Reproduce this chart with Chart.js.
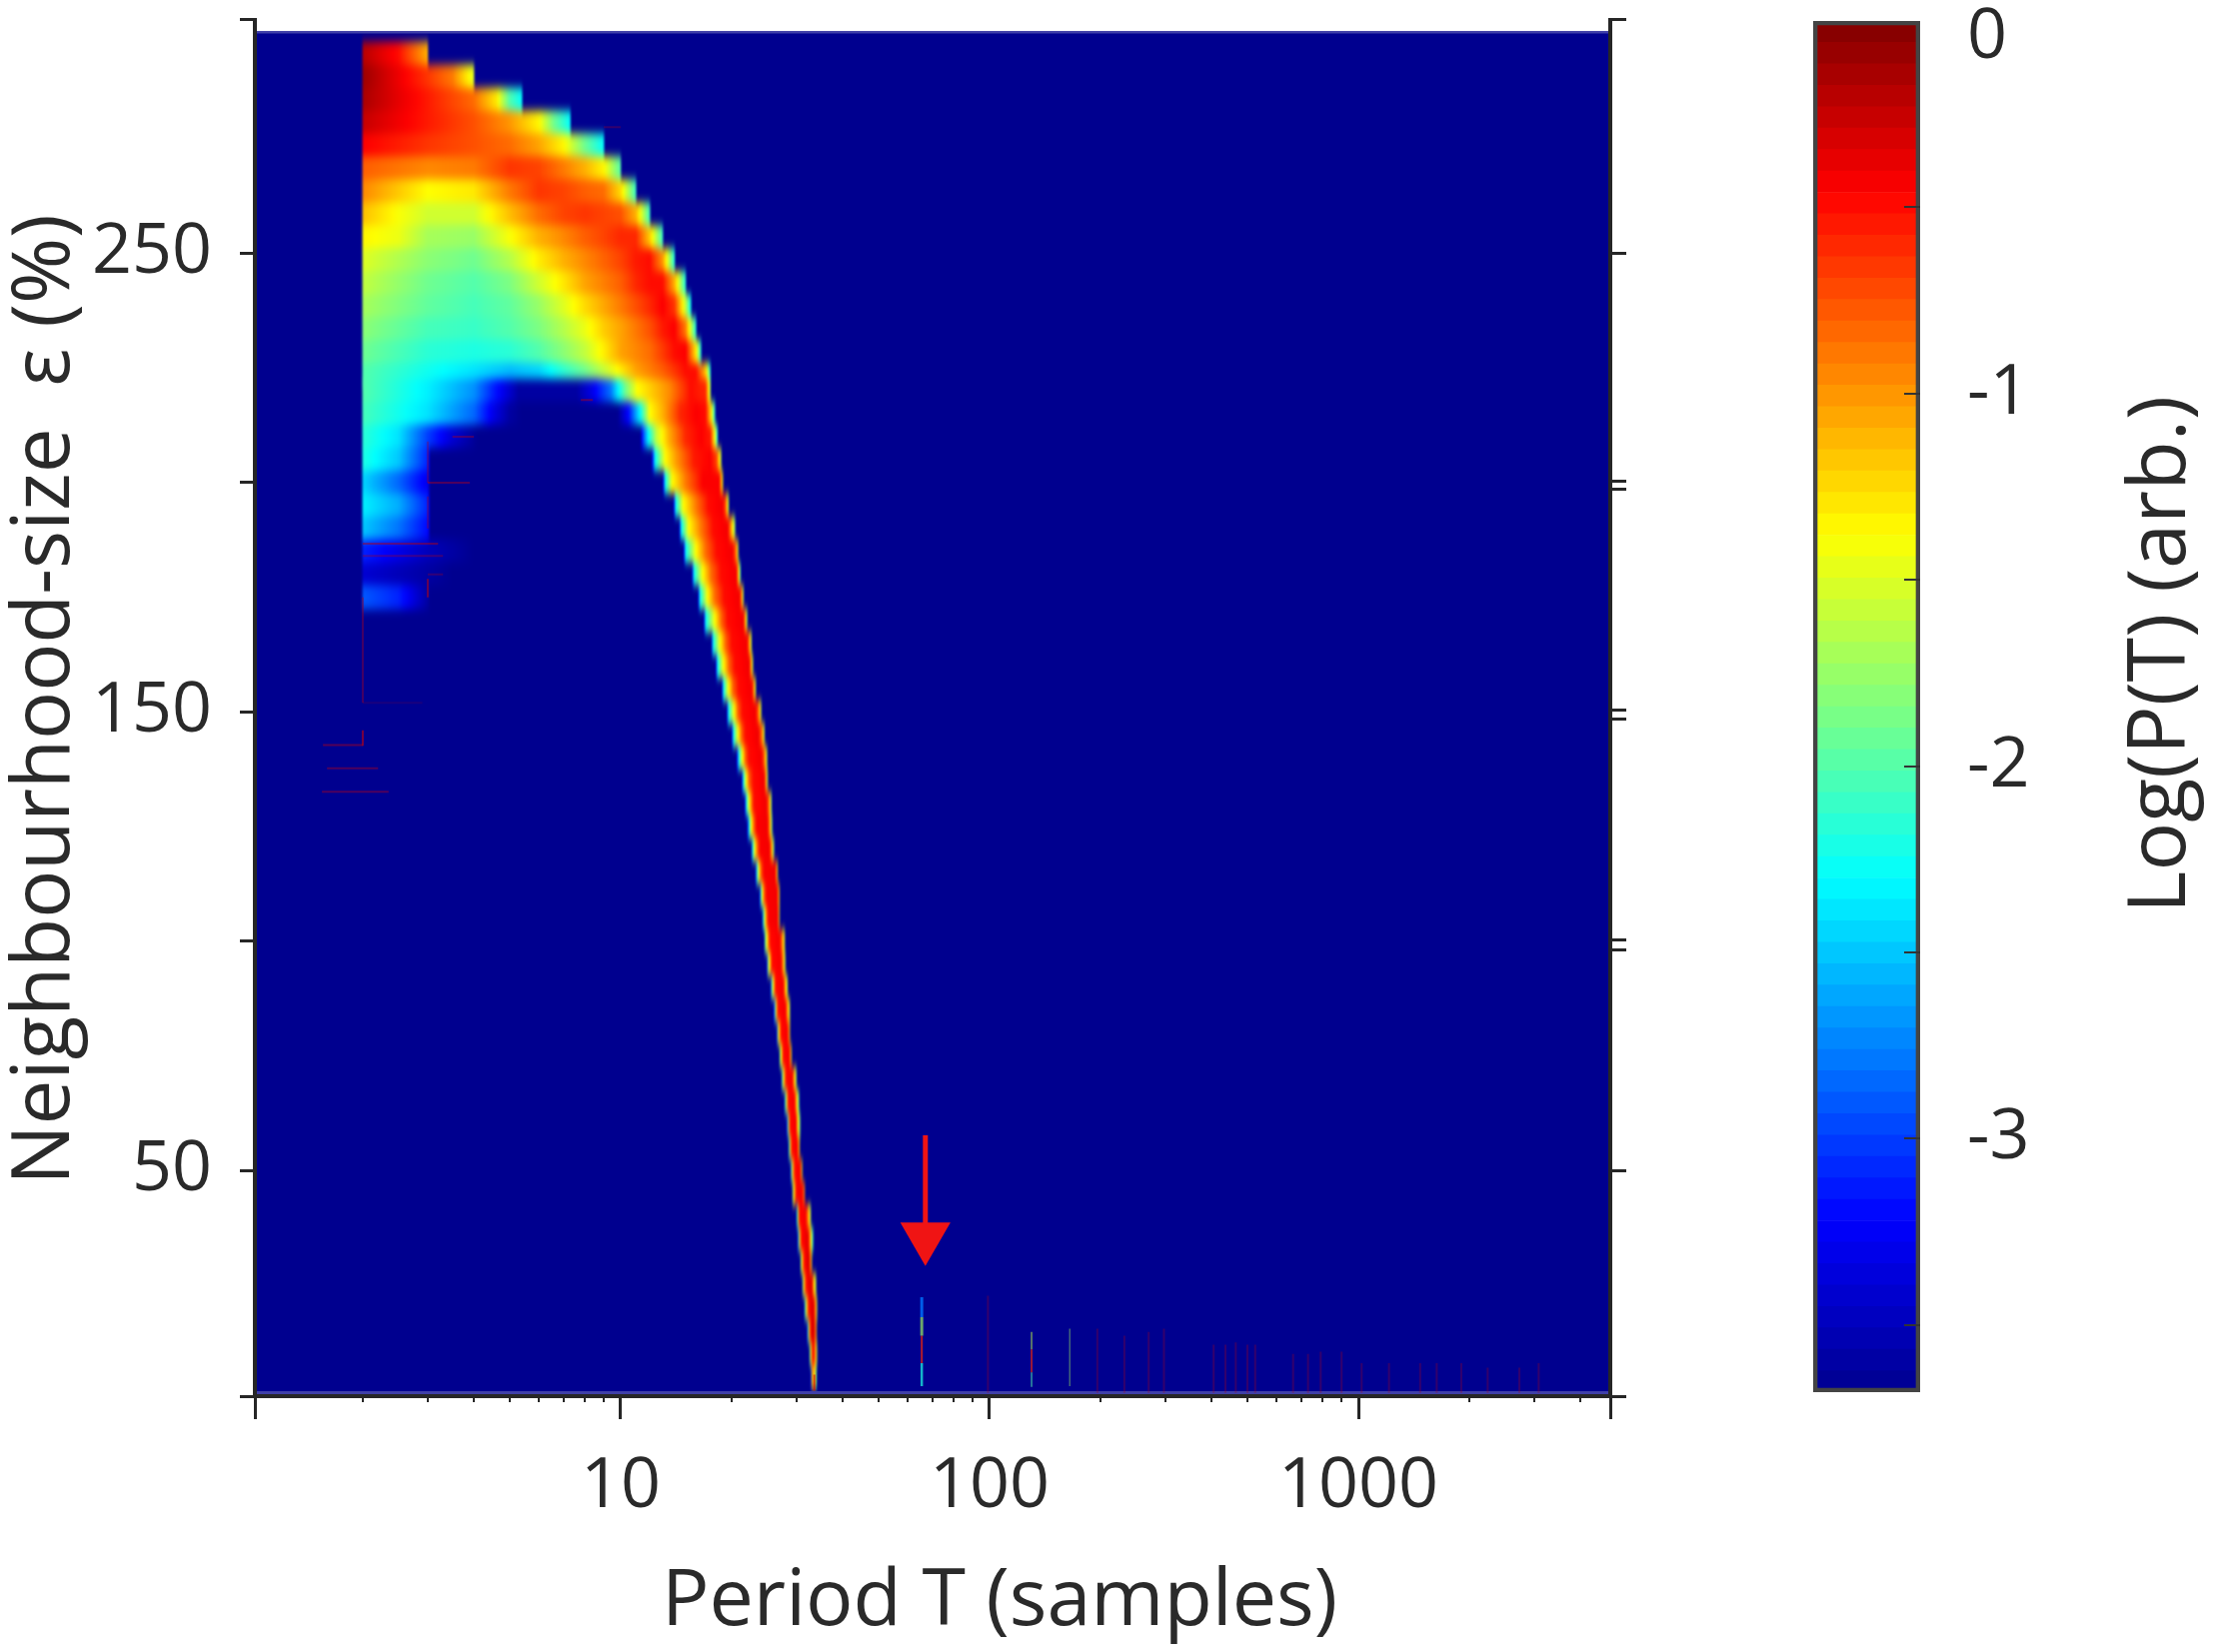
<!DOCTYPE html>
<html>
<head>
<meta charset="utf-8">
<title>Period spectrum</title>
<script src="https://cdn.jsdelivr.net/npm/chart.js@4/dist/chart.umd.min.js"></script>
<style>
body { margin: 0; background: #fff; }
#grafico { position: absolute; left: 0; top: 0; }
#barra { position: absolute; left: 1780px; top: 0; }
</style>
</head>
<body>
<svg width="0" height="0" style="position:absolute">
  <filter id="softRows" x="-5%" y="-5%" width="110%" height="110%" color-interpolation-filters="sRGB">
    <feGaussianBlur stdDeviation="1.2 5"/>
  </filter>
</svg>
<canvas id="grafico" width="2217" height="1653"></canvas>
<canvas id="barra" width="437" height="1653"></canvas>
<script>
// ticks
const xMajorTicks = [1.02, 10, 100, 1000, 4815];
const xMinorTicks = [2, 3, 4, 5, 6, 7, 8, 9, 20, 30, 40, 50, 60, 70, 80, 90, 200, 300, 400, 500, 600, 700, 800, 900, 2000, 3000, 4000];
const yTicks = [0.8, 50, 100, 150, 200, 250, 301];
const yRightTicks = [0.8, 50, 98.2, 100.2, 148.5, 150.4, 198.6, 200.3, 250, 301];
const xLabels = [10, 100, 1000];
const yLabels = [50, 150, 250];
const barTicks = [-0.5, -1, -1.5, -2, -2.5, -3, -3.5];
const barLabels = [-1, -2, -3];

// jet colour stops: log P, r, g, b
const jetValues = [-3.68, -3.22, -2.3, -1.38, -0.46, 0];
const jetColors = [[0, 0, 143], [0, 0, 255], [0, 255, 255], [255, 255, 0], [255, 0, 0], [128, 0, 0]];

// neighbourhood size of each row of the map
const rowEpsilon = [293.5, 288.5, 283.5, 278.5, 273.5, 268.5, 263.5, 258.5, 253.5, 248.5, 243.5, 238.5, 233.5, 228.5, 223.5, 220, 215, 210, 205, 200,
    195, 190, 185, 180, 175, 170, 165, 160, 155, 150, 145, 140, 135, 130, 125, 120, 115, 110, 105, 100,
    95, 90, 85, 80, 75, 70, 65, 60, 55, 50, 45, 40, 35, 30, 25, 20, 15, 10, 5];

// period T, log P pairs read along each row
const rowSamples = [
    [2,-.2, 2.5,-.5, 3,-1.1],
    [2,-.1, 2.5,-.4, 3,-.65, 3.5,-.9, 4,-1.5],
    [2,-.15, 3,-.55, 4,-.85, 4.6,-1.3, 5,-2, 5.4,-2.3],
    [2,-.25, 3,-.55, 4,-.75, 5,-1, 6,-1.35, 6.6,-1.9, 7.3,-2.3],
    [2,-.45, 3,-.65, 4,-.75, 5,-.85, 6,-1.05, 7,-1.35, 8,-1.9, 9,-2.3],
    [2,-.8, 3,-.95, 4,-.9, 5,-.65, 6,-.7, 7,-.9, 8,-1.1, 9,-1.35, 10,-2],
    [2,-.95, 3,-1.38, 4,-1.3, 5,-.9, 6,-.65, 7,-.7, 8,-.8, 9,-.85, 10,-1.25, 11,-2.1],
    [2,-1.15, 2.5,-1.4, 3,-1.55, 4,-1.55, 5,-1.15, 6,-.85, 7,-.7, 8,-.65, 9,-.7, 10,-.75, 11,-1.1, 12,-2.1],
    [2,-1.35, 2.5,-1.45, 3,-1.7, 4,-1.75, 5,-1.4, 6,-1.1, 7,-.95, 8,-.8, 9,-.7, 10,-.6, 11,-.6, 12,-1.2, 13,-2.1],
    [2,-1.5, 3,-1.8, 4,-1.9, 5,-1.65, 6,-1.32, 7,-1.1, 8,-.95, 10,-.7, 11,-.55, 12,-.5, 13,-1, 14,-2.2],
    [2,-1.6, 3,-1.9, 4,-2, 5,-1.85, 6,-1.55, 7,-1.3, 8,-1.05, 10,-.8, 11,-.6, 12,-.5, 13,-.5, 14,-1.1, 15,-2.2],
    [2,-1.7, 3,-1.95, 4,-2.05, 5,-1.95, 6,-1.75, 7,-1.5, 8,-1.25, 10,-.9, 12,-.6, 13,-.45, 14,-.65, 15,-1.6, 15.5,-2.3],
    [2,-1.8, 3,-2.05, 4,-2.1, 5,-2, 6,-1.85, 7,-1.65, 8,-1.45, 9,-1.2, 10,-1.05, 12,-.75, 13,-.55, 14,-.45, 15,-.9, 16,-2.2],
    [2,-1.9, 3,-2.15, 4,-2.2, 5,-2.15, 6,-2, 7,-1.8, 8,-1.6, 8.8,-1.38, 10,-1.05, 12,-.85, 14,-.5, 15,-.45, 16,-1.3, 16.5,-2.2],
    [2,-2, 3,-2.25, 4,-2.4, 5,-2.55, 6,-2.45, 7,-2.15, 8,-1.9, 9,-1.6, 9.8,-1.38, 11,-1.05, 13,-.8, 15,-.5, 16,-.5, 17,-1.2, 17.5,-2.2],
    [2,-2, 3,-2.35, 4,-2.7, 4.5,-3.1, 5.3,-3.6, 7.6,-3.6, 8.4,-3.3, 9.4,-2.8, 10.3,-1.9, 11.1,-1.38, 13.6,-.95, 15.5,-.5, 17,-.6, 17.5,-1.7],
    [2,-2.05, 3,-2.4, 4,-2.85, 4.5,-3.3, 5,-3.6, 5.4,-3.68, 9.8,-3.68, 10.5,-3.2, 11.3,-2.3, 12,-1.38, 13,-1.1, 14.5,-.6, 16,-.45, 17,-.5, 17.6,-1.3, 18,-2.2],
    [2,-2.15, 2.5,-2.4, 3,-3, 3.5,-3.4, 4.1,-3.68, 11.3,-3.68, 11.5,-3, 11.9,-2.3, 12.5,-1.6, 13.5,-1.1, 15,-.6, 16.5,-.45, 17.5,-.55, 18,-1.4, 18.3,-2.2],
    [2,-2.2, 2.5,-2.5, 3,-3.1, 3.05,-3.68, 12.1,-3.68, 12.4,-2.3, 13.2,-1.38, 14.2,-1, 15.8,-.55, 17.5,-.45, 18.2,-.7, 18.7,-1.6],
    [2,-2.45, 2.5,-2.85, 3,-3.3, 3.05,-3.68, 13,-3.68, 13.2,-2.3, 13.8,-1.38, 15,-.9, 16.7,-.45, 18.5,-.45, 18.9,-1.4],
    [2,-2.35, 2.5,-2.6, 3,-3.1, 3.05,-3.68, 13.9,-3.68, 14.1,-2.3, 14.8,-1.38, 16,-.9, 17.3,-.5, 18.9,-.42, 19.3,-.8, 19.6,-1.7],
    [2,-2.5, 2.5,-2.8, 3,-3.2, 3.05,-3.68, 14.4,-3.68, 14.6,-2.3, 15.3,-1.38, 16.5,-.9, 17.8,-.5, 19.5,-.42, 20,-1.1, 20.4,-1.8],
    [2,-3.1, 3,-3.5, 4,-3.68, 14.8,-3.68, 15,-2.3, 16,-1.38, 17,-.85, 18.2,-.5, 20.1,-.42, 20.6,-.9, 20.8,-1.6],
    [2,-3.4, 3,-3.6, 3.5,-3.68, 15.6,-3.68, 15.8,-2.3, 16.7,-1.38, 17.6,-.85, 18.7,-.5, 20.6,-.42, 20.9,-1.2, 21.1,-2.1],
    [2,-2.9, 2.5,-3.1, 3,-3.6, 3.05,-3.68, 16.2,-3.68, 16.4,-2.3, 17.2,-1.38, 18,-.85, 19.1,-.5, 21,-.42, 21.3,-.9, 21.5,-1.7],
    [16.8,-3.68, 17,-2.3, 18,-1.38, 18.8,-.8, 19.5,-.5, 21.5,-.42, 21.8,-1, 22,-1.8],
    [17.6,-3.68, 17.8,-2.3, 18.6,-1.38, 19.3,-.8, 20,-.5, 22,-.42, 22.3,-.9, 22.6,-1.6],
    [18.1,-3.68, 18.3,-2.3, 19,-1.38, 19.7,-.8, 20.4,-.5, 22.3,-.42, 22.6,-1, 22.8,-1.7],
    [18.8,-3.68, 19,-2.3, 19.6,-1.38, 20.2,-.8, 20.9,-.5, 22.7,-.42, 23,-1, 23.2,-1.6],
    [19.4,-3.68, 19.6,-2.3, 20.3,-1.38, 20.8,-.8, 21.4,-.5, 23.2,-.42, 23.7,-.9, 24,-1.6],
    [20,-3.68, 20.2,-2.3, 20.8,-1.38, 21.3,-.8, 21.8,-.5, 23.6,-.42, 24.2,-.9, 24.5,-1.6],
    [20.6,-3.68, 20.9,-2.3, 21.4,-1.38, 21.8,-.8, 22.3,-.5, 24.1,-.42, 24.6,-.9, 24.9,-1.6],
    [21.3,-3.68, 21.5,-2.3, 21.9,-1.38, 22.3,-.8, 22.9,-.5, 24.5,-.42, 24.8,-1, 25,-1.7],
    [21.7,-3.68, 21.9,-2.3, 22.3,-1.38, 22.7,-.8, 23,-.5, 24.8,-.42, 25.3,-.9, 25.6,-1.8],
    [22,-3.68, 22.3,-2.3, 22.6,-1.38, 23,-.8, 23.4,-.45, 25,-.42, 25.4,-1, 25.7,-1.9],
    [22.6,-3.68, 22.8,-2.3, 23.1,-1.38, 23.5,-.8, 23.9,-.45, 25.3,-.42, 25.7,-1, 26,-1.9],
    [23.2,-3.68, 23.4,-2.3, 23.7,-1.38, 24,-.8, 24.5,-.45, 26.3,-.42, 26.6,-1.4],
    [23.8,-3.68, 24,-2.3, 24.2,-1.38, 24.5,-.8, 24.9,-.45, 26.6,-.42, 26.9,-1.3],
    [24.2,-3.68, 24.4,-2.3, 24.6,-1.38, 24.9,-.8, 25.2,-.45, 26.7,-.42, 26.9,-1.5],
    [24.5,-3.68, 24.7,-1.8, 25,-1.2, 25.4,-.5, 27,-.42, 27.5,-1, 27.8,-1.5],
    [24.9,-3.68, 25.1,-1.8, 25.4,-1.2, 25.7,-.5, 27.2,-.42, 27.6,-1, 27.9,-1.6],
    [25.5,-3.68, 25.7,-2, 26,-1.2, 26.3,-.5, 27.6,-.42, 28,-1.1, 28.3,-1.6],
    [26,-3.68, 26.2,-2.3, 26.4,-1.2, 26.7,-.5, 28,-.42, 28.4,-1.1, 28.7,-1.6],
    [26.5,-3.68, 26.7,-1.6, 27,-1, 27.2,-.5, 28.4,-.42, 28.7,-1.4],
    [27,-3.68, 27.1,-1.6, 27.4,-1, 27.6,-.5, 28.7,-.42, 29,-1.4],
    [27.3,-3.68, 27.5,-1.7, 27.8,-1, 28.1,-.5, 29.2,-.42, 29.6,-1.1, 29.9,-1.7],
    [27.8,-3.68, 28,-2, 28.3,-1, 28.5,-.5, 29.6,-.42, 30,-1.1, 30.4,-2],
    [28.2,-3.68, 28.4,-2.2, 28.6,-1, 28.8,-.5, 29.9,-.42, 30.2,-1.2, 30.6,-1.9],
    [28.5,-3.68, 28.7,-2, 28.9,-1, 29.1,-.5, 30.2,-.42, 30.5,-1.4],
    [28.9,-3.68, 29.1,-1.8, 29.4,-.9, 29.7,-.5, 30.7,-.42, 31,-1.4],
    [29.2,-3.68, 29.4,-1.4, 29.7,-.9, 30,-.45, 31.1,-.42, 31.5,-1],
    [29.9,-3.68, 30.1,-2.4, 30.3,-1.3, 30.5,-.5, 31.7,-.42, 32.3,-1, 32.7,-1.7],
    [30.2,-3.68, 30.4,-2.2, 30.6,-1.2, 30.9,-.5, 32.2,-.35, 32.6,-.9, 33.2,-2.2],
    [30.7,-3.68, 30.9,-1.6, 31.2,-.8, 31.6,-.45, 32.5,-.3, 32.9,-1.4],
    [31.1,-3.68, 31.3,-1.4, 31.6,-.8, 32,-.45, 33,-.3, 33.4,-1.2, 33.8,-1.6],
    [31.5,-3.68, 31.7,-2, 32,-1, 32.5,-.45, 33.4,-.3, 33.8,-1, 34,-1.6],
    [32,-3.68, 32.2,-2.3, 32.5,-.9, 32.9,-.35, 33.5,-.3, 33.9,-1.2],
    [32.5,-3.68, 32.7,-1.6, 33,-.7, 33.3,-.4, 33.7,-.9, 34,-1.6],
    [32.8,-3.68, 33,-1.4, 33.3,-.9, 33.6,-1.2, 33.9,-2]
];

// thin coloured traces: T, epsilon from, epsilon to, log P, width, opacity
const traces = [
    [65.5, 18, 22.4, -2.8, 3, 0.8], [65.5, 14, 18, -1.7, 3, 0.65], [65.5, 8, 14, -0.6, 2, 0.7], [65.5, 3, 8, -2.2, 2.5, 0.7],
    [130, 2.8, 6, -2, 1.5, 0.6], [130, 6, 11, -0.6, 1.5, 0.8], [130, 11, 14.8, -1.6, 1.5, 0.6],
    [165, 3, 15.5, -1.7, 1.5, 0.4], [33.5, 2, 5.5, -0.3, 2, 0.6]
];

// faint dark red lines: T from, epsilon from, T to, epsilon to, opacity
const streaks = [
    [2, 175, 2, 152, 0.4], [2, 146, 2, 142.6, 0.7], [1.56, 142.8, 2, 142.8, 0.5], [1.6, 137.7, 2.2, 137.7, 0.45],
    [1.55, 132.6, 2.35, 132.6, 0.45], [2, 152, 2.9, 152, 0.15], [3, 209, 3, 200, 0.3], [3, 197, 3, 190, 0.3],
    [3, 179, 3, 175, 0.6], [3, 200, 3.9, 200, 0.45], [2, 186.7, 3.2, 186.7, 0.5], [2, 184, 3.3, 184, 0.35],
    [3, 180, 3.3, 180, 0.3], [3.5, 210, 4, 210, 0.4], [9, 277.5, 10, 277.5, 0.3], [7.8, 218, 8.4, 218, 0.5]
];
const spikeT = [99, 196, 232, 270, 297, 405, 436, 465, 500, 525, 665, 730, 790, 900, 1020, 1210, 1470, 1630, 1900, 2240, 2730, 3080];
const spikeTop = [22.7, 15.5, 14, 14.8, 15.5, 12, 12, 12.5, 12, 12, 10, 10, 10.5, 10.5, 8, 8, 8, 8, 8, 7, 7, 8];

// red arrow
const arrowT = 67;
const arrowTop = 57.7;
const arrowShaftEnd = 38.5;
const arrowHead = 35.5;

const fieldTop = 298.5;

const fontFamily = '"Open Sans", sans-serif';
const textColor = '#2a2a2a';
const axisColor = '#262626';

const jet = (v) => {
    if (v <= jetValues[0]) return jetColors[0];
    for (let i = 1; i < jetValues.length; i++) {
        if (v <= jetValues[i]) {
            const t = (v - jetValues[i - 1]) / (jetValues[i] - jetValues[i - 1]);
            return jetColors[i].map((c, k) => Math.round(jetColors[i - 1][k] + (c - jetColors[i - 1][k]) * t));
        }
    }
    return jetColors[jetColors.length - 1];
};
const jetCss = (v) => 'rgb(' + jet(v).join(',') + ')';

// one bar for each pair of neighbouring samples of a row
const cells = [];
const cellFrom = [];
const cellTo = [];
rowEpsilon.forEach((eps, r) => {
    const s = rowSamples[r];
    for (let i = 0; i + 3 < s.length; i += 2) {
        cells.push({ y: eps, x: [s[i], s[i + 2]] });
        cellFrom.push(s[i + 1]);
        cellTo.push(s[i + 3]);
    }
});

const cellColor = (ctx) => {
    const i = ctx.dataIndex;
    if (i === undefined) return jetCss(-3.68);
    const x = ctx.chart.scales.x;
    const cell = cells[i];
    const x0 = x.getPixelForValue(cell.x[0]);
    const x1 = x.getPixelForValue(cell.x[1]);
    if (!isFinite(x0) || !isFinite(x1)) return jetCss(cellFrom[i]);
    const g = ctx.chart.ctx.createLinearGradient(x0, 0, x1, 0);
    for (let k = 0; k <= 6; k++) {
        g.addColorStop(k / 6, jetCss(cellFrom[i] + (cellTo[i] - cellFrom[i]) * k / 6));
    }
    return g;
};

const lineOf = (points, color, width) => ({
    type: 'line',
    data: points,
    xAxisID: 'x',
    yAxisID: 'y',
    borderColor: color,
    borderWidth: width,
    pointRadius: 0,
    tension: 0,
    order: 1
});

const datasets = [{
    type: 'bar',
    indexAxis: 'y',
    data: cells,
    xAxisID: 'x',
    yAxisID: 'y',
    backgroundColor: cellColor,
    barThickness: 23.5,
    order: 2
}];
streaks.forEach(s => datasets.push(lineOf([{ x: s[0], y: s[1] }, { x: s[2], y: s[3] }], 'rgba(170,0,30,' + s[4] + ')', 2)));
spikeT.forEach((t, i) => datasets.push(lineOf([{ x: t, y: 1.5 }, { x: t, y: spikeTop[i] }], 'rgba(170,0,30,0.3)', 2)));
traces.forEach(s => datasets.push(lineOf([{ x: s[0], y: s[1] }, { x: s[0], y: s[2] }], 'rgba(' + jet(s[3]).join(',') + ',' + s[5] + ')', s[4])));
datasets.push(lineOf([{ x: arrowT, y: arrowTop }, { x: arrowT, y: arrowShaftEnd }], '#f01414', 5));
datasets.push({
    type: 'line',
    data: [{ x: arrowT, y: arrowHead }],
    xAxisID: 'x',
    yAxisID: 'y',
    showLine: false,
    pointStyle: 'triangle',
    pointRotation: 180,
    pointRadius: 29,
    pointBackgroundColor: '#f01414',
    pointBorderWidth: 0,
    order: 0
});

const drawTitle = (ctx, text, x, y, size, angle) => {
    ctx.save();
    ctx.translate(x, y);
    ctx.rotate(angle);
    ctx.font = size + 'px ' + fontFamily;
    ctx.fillStyle = textColor;
    ctx.textAlign = 'center';
    ctx.textBaseline = 'middle';
    ctx.fillText(text, 0, 0);
    ctx.restore();
};

const mapaPlugin = {
    id: 'mapa',
    beforeDatasetsDraw(chart) {
        const { ctx, scales: { x, y } } = chart;
        const top = y.getPixelForValue(fieldTop);
        ctx.save();
        ctx.fillStyle = jetCss(-3.68);
        ctx.fillRect(x.left, top, x.width, y.bottom - top);
        ctx.restore();
    },
    afterDatasetDraw(chart, args) {
        if (args.index !== 0) return;
        // the reference is a soft resampled image: melt the rows together
        const { ctx, canvas, scales: { x, y } } = chart;
        const top = y.getPixelForValue(fieldTop);
        const w = x.width;
        const h = y.bottom - top;
        ctx.save();
        ctx.beginPath();
        ctx.rect(x.left, top, w, h);
        ctx.clip();
        ctx.filter = 'url(#softRows)';
        ctx.drawImage(canvas, x.left, top, w, h, x.left, top, w, h);
        ctx.filter = 'none';
        ctx.fillStyle = '#3f3fa8';
        ctx.fillRect(x.left, top, w, 2.5);
        ctx.fillRect(x.left, y.bottom - 5, w, 4);
        ctx.restore();
    },
    afterDraw(chart) {
        drawTitle(chart.ctx, 'Period T (samples)', 1000, 1603, 79, 0);
        drawTitle(chart.ctx, 'Neighbourhood-size  ε (%)', 46, 700, 80, -Math.PI / 2);
    }
};

const setTicks = (list) => (scale) => { scale.ticks = list.map(v => ({ value: v })); };

// fixed box for a scale, and no room kept for half a tick label
const fitBox = (side, size) => (s) => {
    s[side] = size;
    s.paddingTop = 0;
    s.paddingBottom = 0;
    s.paddingLeft = 0;
    s.paddingRight = 0;
};

const grafico = new Chart(document.getElementById('grafico'), {
    type: 'bar',
    data: { datasets },
    plugins: [mapaPlugin],
    options: {
        responsive: false,
        animation: false,
        devicePixelRatio: 1,
        layout: { autoPadding: false, padding: { top: 19.5 } },
        plugins: { legend: { display: false }, tooltip: { enabled: false } },
        scales: {
            x: {
                type: 'logarithmic',
                position: 'bottom',
                min: xMajorTicks[0],
                max: xMajorTicks[xMajorTicks.length - 1],
                offset: false,
                beginAtZero: false,
                afterBuildTicks: setTicks(xMajorTicks),
                afterFit: fitBox('height', 256),
                border: { display: true, color: axisColor, width: 4, z: 1 },
                grid: { offset: false, drawOnChartArea: false, color: axisColor, lineWidth: 3, tickLength: 23, z: 1 },
                ticks: {
                    autoSkip: false, maxRotation: 0, minRotation: 0, padding: 26, color: textColor,
                    font: { family: fontFamily, size: 70 },
                    callback: (v) => xLabels.includes(v) ? String(v) : ''
                }
            },
            x2: {
                type: 'logarithmic',
                position: 'bottom',
                weight: -1,
                min: xMajorTicks[0],
                max: xMajorTicks[xMajorTicks.length - 1],
                offset: false,
                beginAtZero: false,
                afterBuildTicks: setTicks(xMinorTicks),
                afterFit: fitBox('height', 0),
                border: { display: false },
                grid: { offset: false, drawOnChartArea: false, color: axisColor, lineWidth: 2, tickLength: 6, z: 1 },
                ticks: { display: false, autoSkip: false }
            },
            y: {
                type: 'linear',
                position: 'left',
                min: yTicks[0],
                max: yTicks[yTicks.length - 1],
                offset: false,
                afterBuildTicks: setTicks(yTicks),
                afterFit: fitBox('width', 255),
                border: { display: true, color: axisColor, width: 4, z: 1 },
                grid: { offset: false, drawOnChartArea: false, color: axisColor, lineWidth: 3, tickLength: 15, z: 1 },
                ticks: {
                    autoSkip: false, padding: 28, color: textColor,
                    font: { family: fontFamily, size: 70 },
                    callback: (v) => yLabels.includes(v) ? String(v) : ''
                }
            },
            y2: {
                type: 'linear',
                position: 'right',
                min: yTicks[0],
                max: yTicks[yTicks.length - 1],
                offset: false,
                afterBuildTicks: setTicks(yRightTicks),
                afterFit: fitBox('width', 606),
                border: { display: true, color: axisColor, width: 4, z: 1 },
                grid: { offset: false, drawOnChartArea: false, color: axisColor, lineWidth: 3, tickLength: 16, z: 1 },
                ticks: { display: false, autoSkip: false }
            }
        }
    }
});

// colour bar: 64 flat bands like the image, lowest first
const bandCount = 64;
const barMin = jetValues[0];
const barDatasets = [];
for (let i = 0; i < bandCount; i++) {
    const lo = barMin - barMin * i / bandCount;
    const hi = barMin - barMin * (i + 1) / bandCount;
    barDatasets.push({
        data: [[lo, hi]],
        backgroundColor: jetCss((lo + hi) / 2),
        grouped: false,
        barPercentage: 1,
        categoryPercentage: 1
    });
}
barDatasets.push({
    data: [[barMin, 0]],
    backgroundColor: 'rgba(0,0,0,0)',
    borderColor: '#444',
    borderWidth: 4,
    borderSkipped: false,
    grouped: false,
    barPercentage: 1,
    categoryPercentage: 1,
    order: -1
});

const barra = new Chart(document.getElementById('barra'), {
    type: 'bar',
    data: { labels: [''], datasets: barDatasets },
    plugins: [{
        id: 'tituloBarra',
        afterDraw(chart) {
            drawTitle(chart.ctx, 'Log(P(T) (arb.)', 383, 655, 81, -Math.PI / 2);
        }
    }],
    options: {
        responsive: false,
        animation: false,
        devicePixelRatio: 1,
        layout: { padding: { left: 34, top: 21, bottom: 260 } },
        plugins: { legend: { display: false }, tooltip: { enabled: false } },
        scales: {
            x: { display: false },
            y: {
                position: 'right',
                min: barMin,
                max: 0,
                beginAtZero: false,
                afterBuildTicks: (s) => {
                    s.ticks = [{ value: -0.045 }].concat(barTicks.map(v => ({ value: v })));
                },
                afterFit: fitBox('width', 296),
                border: { display: false },
                grid: {
                    drawOnChartArea: false, tickLength: -16, lineWidth: 2, z: 1,
                    tickColor: (c) => c.tick && c.tick.value > -0.1 ? 'rgba(0,0,0,0)' : '#333'
                },
                ticks: {
                    autoSkip: false, padding: 63, color: textColor,
                    font: { family: fontFamily, size: 70 },
                    callback: (v) => v > -0.1 ? '0' : (barLabels.includes(v) ? String(v) : '')
                }
            }
        }
    }
});
</script>
</body>
</html>
